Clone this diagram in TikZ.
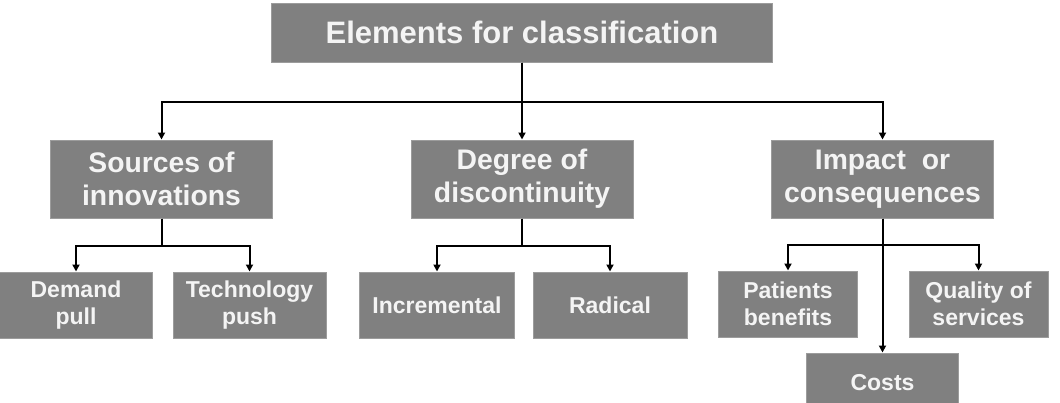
\documentclass[tikz,border=0pt]{standalone}
\usepackage{fontspec}
\setmainfont{Liberation Sans}
\usetikzlibrary{arrows.meta,positioning}
\definecolor{BoxGray}{HTML}{808080}
\definecolor{EdgeGray}{HTML}{9C9C9C}
\definecolor{Label}{HTML}{F4F4F4}

\begin{document}
\begin{tikzpicture}[x=1pt, y=-1pt,
  box/.style={draw=EdgeGray, line width=1pt, fill=BoxGray, text=Label,
    inner sep=0pt, align=center},
  head/.style={box, minimum width=501pt, minimum height=59pt,
    font=\bfseries\fontsize{31}{36}\selectfont},
  branch/.style={box, minimum width=222pt, minimum height=78pt,
    font=\bfseries\fontsize{28.3}{33}\selectfont},
  leaf/.style={box, minimum width=153pt, minimum height=66pt,
    font=\bfseries\fontsize{23}{27}\selectfont},
  link/.style={-{Triangle[length=7pt,width=7pt]}, line width=2pt, draw=black}
]
  \useasboundingbox (0,0) rectangle (1060,402);
  \clip (0,0) rectangle (1060,402);

  \node[head] (top) at (522,32.5) {Elements for classification};

  \node[branch] (src) at (161.5,179) {Sources of\\innovations};
  \node[branch] (deg) at (522,179) {Degree of\\discontinuity};
  \node[branch] (imp) at (882.5,179) {Impact\ \ or\\consequences};

  \node[leaf] (dem) at (76,305) {Demand\\pull};
  \node[leaf] (tech) at (249.5,305) {Technology\\push};
  \node[leaf, minimum width=155pt] (incr) at (437,305) {Incremental};
  \node[leaf, minimum width=154pt] (rad) at (610,305) {Radical};
  \node[leaf, minimum width=139pt] (pat) at (788,304) {Patients\\benefits};
  \node[leaf, minimum width=139pt] (qual) at (978.5,304) {Quality of\\services};
  \node[leaf, minimum width=152pt, minimum height=60pt] (cost) at (882.5,383) {Costs};

  % top level
  \draw[link] (top.south) -- (deg.north);
  \draw[link] (top.south) -- ++(0,39) -| (src.north);
  \draw[link] (top.south) -- ++(0,39) -| (imp.north);

  % second level
  \draw[link] (src.south) -- ++(0,27) -| (dem.north);
  \draw[link] (src.south) -- ++(0,27) -| (tech.north);
  \draw[link] (deg.south) -- ++(0,27) -| (incr.north);
  \draw[link] (deg.south) -- ++(0,27) -| (rad.north);
  \draw[link] (imp.south) -- ++(0,26) -| (pat.north);
  \draw[link] (imp.south) -- ++(0,26) -| (qual.north);
  \draw[link] (imp.south) -- (cost.north);
\end{tikzpicture}
\end{document}
